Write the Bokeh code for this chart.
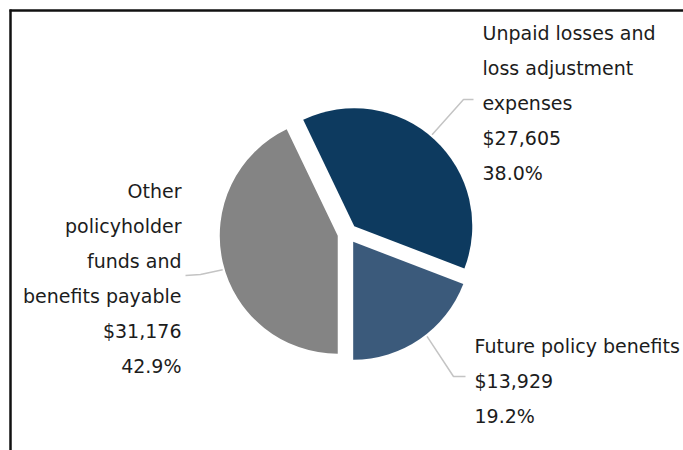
import numpy as np
from bokeh.plotting import figure
from bokeh.models import Range1d, ColumnDataSource
from bokeh.core.properties import value
from bokeh.embed import file_html
from bokeh.resources import INLINE

# ---- data ----
categories = ["Unpaid losses and loss adjustment expenses",
              "Future policy benefits",
              "Other policyholder funds and benefits payable"]
amounts = [27605, 13929, 31176]
amount_labels = ["$27,605", "$13,929", "$31,176"]
percent_labels = ["38.0%", "19.2%", "42.9%"]
label_lines = [["Unpaid losses and", "loss adjustment", "expenses"],
               ["Future policy benefits"],
               ["Other", "policyholder", "funds and", "benefits payable"]]
colors = ["#0d3a5f", "#3b5a7b", "#848484"]

# ---- layout (image pixel coords, y downward) ----
W, H = 683, 450
X0, Y0 = 0, 0
CX, CY = 347, 233
R = 118
EXPLODE = 10
FONT = "DejaVu Sans"
FS = "19px"
TEXT_COLOR = "#1c1c1c"
LINE_H = 35

p = figure(width=W, height=H, output_backend="svg", toolbar_location=None,
           x_range=Range1d(X0, X0 + W), y_range=Range1d(-(Y0 + H), -Y0),
           min_border=0, outline_line_color=None)
p.axis.visible = False
p.grid.visible = False
p.background_fill_color = "white"
p.border_fill_color = "white"

# frame lines
p.line([9, X0 + W], [-10, -10], line_color="#111111", line_width=2.5)
p.line([10, 10], [-9, -(Y0 + H)], line_color="#111111", line_width=2.5)

# wedges
vals = np.array(amounts, dtype=float)
fr = vals / vals.sum()
cum = np.concatenate([[0], np.cumsum(fr)])
a0 = -90 - 360 * fr[-1]  # last slice ends at 6 o'clock, clockwise order
starts = np.radians(a0 - cum[:-1] * 360)
ends = np.radians(a0 - cum[1:] * 360)
mids = (starts + ends) / 2
xs = CX + EXPLODE * np.cos(mids)
ys = -CY + EXPLODE * np.sin(mids)
src = ColumnDataSource(dict(x=xs, y=ys, s=starts, e=ends, c=colors, cat=categories))
p.wedge(x="x", y="y", radius=R, start_angle="s", end_angle="e", direction="clock",
        fill_color="c", line_color=None, source=src)

# leader lines: (angle on slice edge in degrees, elbow, end)
leaders = [
    (49.6, (463, 99), (473, 99)),
    (-52.0, (453, 376), (465, 376)),
    (196.5, (200, 274), (185, 275)),
]
for i, (ang, elb, end) in enumerate(leaders):
    a = np.radians(ang)
    sx = xs[i] + (R + 2) * np.cos(a)
    sy = ys[i] + (R + 2) * np.sin(a)
    p.line([sx, elb[0], end[0]], [sy, -elb[1], -end[1]], line_color="#c4c4c4", line_width=1.5)

# labels: (x, first line y, align)
label_pos = [(482, 32, "left"), (474, 345, "left"), (181, 190, "right")]
for i, (lx, ly, al) in enumerate(label_pos):
    lines = label_lines[i] + [amount_labels[i], percent_labels[i]]
    ty = [-(ly + k * LINE_H) for k in range(len(lines))]
    p.text(x=[lx] * len(lines), y=ty, text=lines, text_align=al, text_baseline="middle",
           text_font=value(FONT), text_font_size=FS, text_color=TEXT_COLOR)

open("out.html", "w").write(file_html(p, INLINE))
